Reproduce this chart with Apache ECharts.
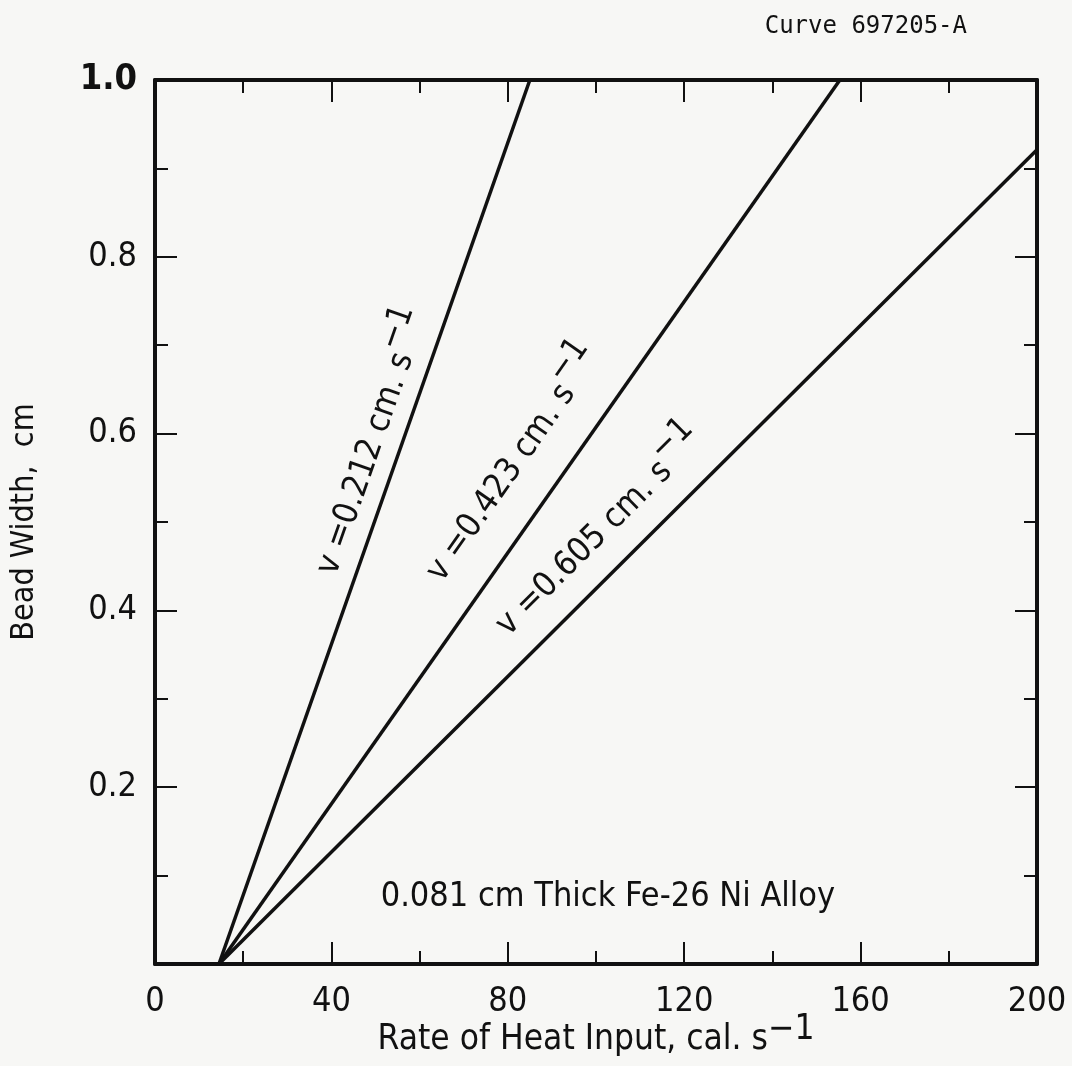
<!DOCTYPE html>
<html>
<head>
<meta charset="utf-8">
<script src="https://cdn.jsdelivr.net/npm/echarts@6/dist/echarts.min.js"></script>
<style>
  html, body { margin: 0; padding: 0; background: #f7f7f5; }
  #chart { width: 1072px; height: 1066px; }
</style>
</head>
<body>
<div id="chart"></div>
<script>
// data
const xRange = [0, 200]
const yRange = [0, 1]
const speedLabels = ['v =0.212 cm. s', 'v =0.423 cm. s', 'v =0.605 cm. s']
const lineStart = [14.5, 0]
const lineEnds = [[85, 1.0], [155.3, 1.0], [200, 0.921]]
const labelAt = [[49.5, 0.59], [81.5, 0.565], [101, 0.488]]
const notePos = [102.7, 0.076]
const noteText = '0.081 cm Thick Fe-26 Ni Alloy'
const curveId = 'Curve 697205-A'

const FONT = "'Liberation Sans Narrow', 'DejaVu Sans Condensed', sans-serif"
const INK = '#111'

const chart = echarts.init(document.getElementById('chart'))

function supRich(size, lift) {
  return {
    base: { fontFamily: FONT, fontSize: size, color: INK, lineHeight: size * lift },
    sup: { fontFamily: FONT, fontSize: size, color: INK, lineHeight: size, verticalAlign: 'top' },
  }
}

function frameAxis(extra) {
  return Object.assign({
    type: 'value',
    axisLine: { show: true, onZero: false, lineStyle: { color: INK, width: 4 } },
    axisTick: { show: true, inside: true, length: 22, lineStyle: { color: INK, width: 2 } },
    minorTick: { show: true, splitNumber: 2, length: 13, lineStyle: { color: INK, width: 2 } },
    splitLine: { show: false },
  }, extra)
}

const lineSeries = lineEnds.map((end, i) => ({
  type: 'line',
  name: speedLabels[i],
  data: [lineStart, end],
  symbol: 'none',
  lineStyle: { color: INK, width: 3.5 },
  z: 3,
}))

function textPoint(pos, label) {
  return {
    type: 'scatter',
    data: [pos],
    symbolSize: 0,
    silent: true,
    itemStyle: { opacity: 1 },
    label: Object.assign({
      show: true,
      position: 'inside',
      opacity: 1,
      textBorderWidth: 0,
    }, label),
  }
}

function buildOption(angles) {
  const labelSeries = labelAt.map((pos, i) => textPoint(pos, {
    rotate: angles[i],
    formatter: '{base|' + speedLabels[i] + '}{sup|−1}',
    rich: supRich(34, 1.9),
  }))
  const noteSeries = textPoint(notePos, {
    formatter: noteText,
    fontFamily: FONT,
    fontSize: 34,
    color: INK,
  })

  return {
    backgroundColor: '#f7f7f5',
    animation: false,
    title: {
      text: curveId,
      right: 100,
      top: 10,
      textStyle: { fontFamily: "'DejaVu Sans Mono', monospace", fontSize: 24, fontWeight: 'normal', color: INK },
    },
    grid: { left: 155, right: 35, top: 80, bottom: 102, outerBoundsMode: 'none' },
    xAxis: [
      frameAxis({
        position: 'bottom',
        min: xRange[0], max: xRange[1], interval: 40,
        axisLabel: { margin: 21, fontFamily: FONT, fontSize: 34, color: INK },
        name: '{base|Rate of Heat Input, cal. s}{sup|−1}',
        nameLocation: 'middle',
        nameGap: 48,
        nameMoveOverlap: false,
        nameTextStyle: { rich: supRich(35, 1.6) },
      }),
      frameAxis({
        position: 'top',
        min: xRange[0], max: xRange[1], interval: 40,
        axisLabel: { show: false },
      }),
    ],
    yAxis: [
      frameAxis({
        position: 'left',
        min: yRange[0], max: yRange[1], interval: 0.2,
        axisLabel: {
          margin: 18, fontFamily: FONT, fontSize: 34, color: INK,
          formatter: (v) => v === 0 ? '' : (v === 1 ? '{b|1.0}' : v.toFixed(1)),
          rich: { b: { fontFamily: FONT, fontSize: 36, fontWeight: 'bold', color: INK } },
        },
        name: 'Bead Width,  cm',
        nameLocation: 'middle',
        nameGap: 114,
        nameMoveOverlap: false,
        nameTextStyle: { fontFamily: FONT, fontSize: 32, color: INK },
      }),
      frameAxis({
        position: 'right',
        min: yRange[0], max: yRange[1], interval: 0.2,
        axisLabel: { show: false },
      }),
    ],
    series: [...lineSeries, ...labelSeries, noteSeries],
  }
}

chart.setOption(buildOption([70, 55, 45]))

// rotate each label to the on-screen slope of its line
const angles = lineEnds.map((end) => {
  const p0 = chart.convertToPixel({ gridIndex: 0 }, lineStart)
  const p1 = chart.convertToPixel({ gridIndex: 0 }, end)
  return Math.atan2(p0[1] - p1[1], p1[0] - p0[0]) * 180 / Math.PI
})
chart.setOption(buildOption(angles))
</script>
</body>
</html>
